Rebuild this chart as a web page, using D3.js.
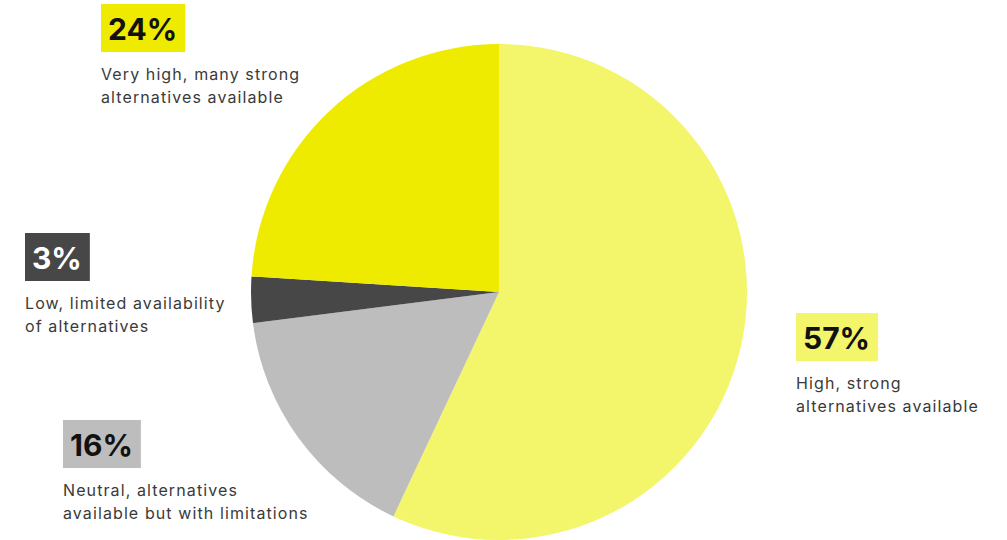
<!DOCTYPE html>
<html>
<head>
<meta charset="utf-8">
<script src="https://cdn.jsdelivr.net/npm/d3@7"></script>
<style>
  body { margin: 0; background: #fff; }
  svg { display: block; }
  .pct { font-family: Inter, "Noto Sans", sans-serif; font-weight: 700; font-size: 30px; }
  .desc { font-family: Inter, "Noto Sans", sans-serif; font-size: 16px; letter-spacing: 1.1px; fill: #3a3a3a; }
</style>
</head>
<body>
<svg id="chart" width="1007" height="540"></svg>
<script>
// slice data, clockwise from 12 o'clock
const categories = ["High", "Neutral", "Low", "Very high"];
const values = [57, 16, 3, 24];
const colors = ["#f3f56b", "#bdbdbd", "#474747", "#eeeb00"];
const pctLabels = ["57%", "16%", "3%", "24%"];
const descLines = [
  ["High, strong", "alternatives available"],
  ["Neutral, alternatives", "available but with limitations"],
  ["Low, limited availability", "of alternatives"],
  ["Very high, many strong", "alternatives available"]
];
const pctColors = ["#111", "#111", "#fff", "#111"];

const svg = d3.select("#chart");
const cx = 499, cy = 292, radius = 248;

const pie = d3.pie().sort(null).value(d => d);
const arc = d3.arc().innerRadius(0).outerRadius(radius);

svg.append("g")
    .attr("transform", `translate(${cx},${cy})`)
  .selectAll("path")
  .data(pie(values))
  .enter()
  .append("path")
    .attr("d", arc)
    .attr("fill", (d, i) => colors[i]);

// label boxes: top-left corner of each percentage box
const labelPos = [
  { x: 796, y: 313 },
  { x: 63, y: 420 },
  { x: 25, y: 233 },
  { x: 101, y: 4 }
];

categories.forEach((c, i) => {
  const g = svg.append("g").attr("transform", `translate(${labelPos[i].x},${labelPos[i].y})`);
  const t = g.append("text")
      .attr("class", "pct")
      .attr("x", 7)
      .attr("y", 36)
      .attr("fill", pctColors[i])
      .text(pctLabels[i]);
  const w = t.node().getComputedTextLength();
  g.insert("rect", "text")
      .attr("width", w + 15)
      .attr("height", 48)
      .attr("fill", colors[i]);
  g.selectAll("text.desc")
    .data(descLines[i])
    .enter()
    .append("text")
      .attr("class", "desc")
      .attr("x", 0)
      .attr("y", (d, j) => 76 + j * 23)
      .text(d => d);
});
</script>
</body>
</html>
